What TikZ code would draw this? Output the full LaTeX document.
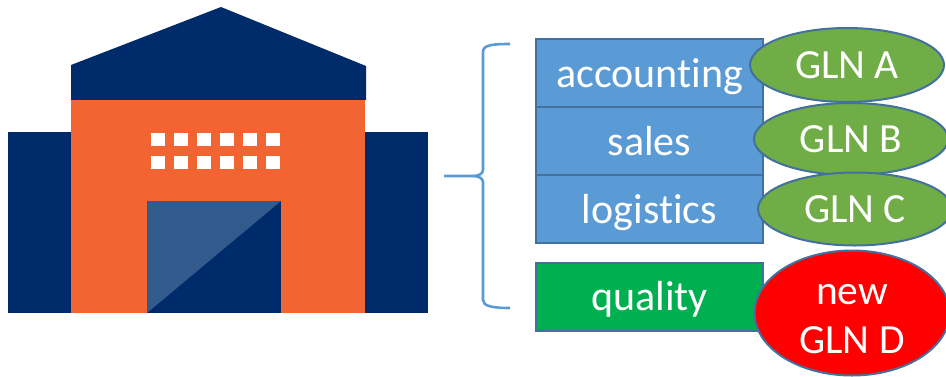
\documentclass[tikz,border=0pt]{standalone}
\usepackage{fontspec}
\setmainfont[Ligatures=CommonOff]{Carlito}
\usetikzlibrary{shapes.geometric}
\definecolor{navyblue}{HTML}{002B6B}
\definecolor{wallorange}{HTML}{F26533}
\definecolor{doorblue}{HTML}{335A8C}
\definecolor{deptblue}{HTML}{5B9BD5}
\definecolor{edgeblue}{HTML}{41719C}
\definecolor{glngreen}{HTML}{70AD47}
\definecolor{qualgreen}{HTML}{00B050}
\tikzset{
  dept/.style={draw=edgeblue,line width=2pt,fill=deptblue,text=white,minimum width=227pt,minimum height=68pt,inner sep=0pt,outer sep=0pt,text height=29pt,text depth=0pt,font=\fontsize{42}{50}\selectfont},
  gln/.style={ellipse,draw=edgeblue,line width=2pt,fill=glngreen,text=white,inner sep=0pt,outer sep=0pt,align=center,font=\fontsize{41.5}{49}\selectfont},
}

\begin{document}
\begin{tikzpicture}[x=1pt,y=-1pt]
    \useasboundingbox (0,0) rectangle (946,376);
    % warehouse
    \fill[navyblue] (8,132) rectangle (428,313);
    \fill[navyblue] (71,100)--(71,65)--(221,7)--(366,66)--(366,100)--cycle;
    \fill[wallorange] (71,100) rectangle (365,313);
    \foreach \i in {0,...,5}{
        \foreach \j in {0,1}{
            \fill[white] (151+23*\i,133+23*\j) rectangle (165+23*\i,146+23*\j);
        }
    }
    \fill[navyblue] (147,201) rectangle (281,313);
    \fill[doorblue] (147,201)--(281,201)--(147,313)--cycle;
    % brace
    \draw[deptblue,line width=2.6pt] (510,44) .. controls (492,44) and (483,45) .. (483,52)
        -- (483,170) .. controls (483,174) and (478,176) .. (473,176) -- (444,176);
    \draw[deptblue,line width=2.6pt] (473,176) .. controls (478,176) and (483,178) .. (483,182)
        -- (483,300) .. controls (483,306) and (492,308) .. (510,308);
    % departments
    \node[dept] (accounting) at (649.5,72.5) {accounting};
    \node[dept] (sales) at (649.5,141) {sales};
    \node[dept] (logistics) at (649.5,209) {logistics};
    \node[dept,fill=qualgreen,text height=27pt] (quality) at (649.5,296.5) {quality};
    % GLNs
    \node[gln,minimum width=194pt,minimum height=74pt] (glna) at (847,65) {GLN A};
    \node[gln,minimum width=194pt,minimum height=72pt] (glnb) at (851,139) {GLN B};
    \node[gln,minimum width=194pt,minimum height=73pt] (glnc) at (855,209) {GLN C};
    \node[gln,fill=red,minimum width=195pt,minimum height=125pt] (glnd) at (852,313) {\smash{\raisebox{-12pt}{\begin{tabular}{@{}c@{}}new\\GLN D\end{tabular}}}};
\end{tikzpicture}
\end{document}
